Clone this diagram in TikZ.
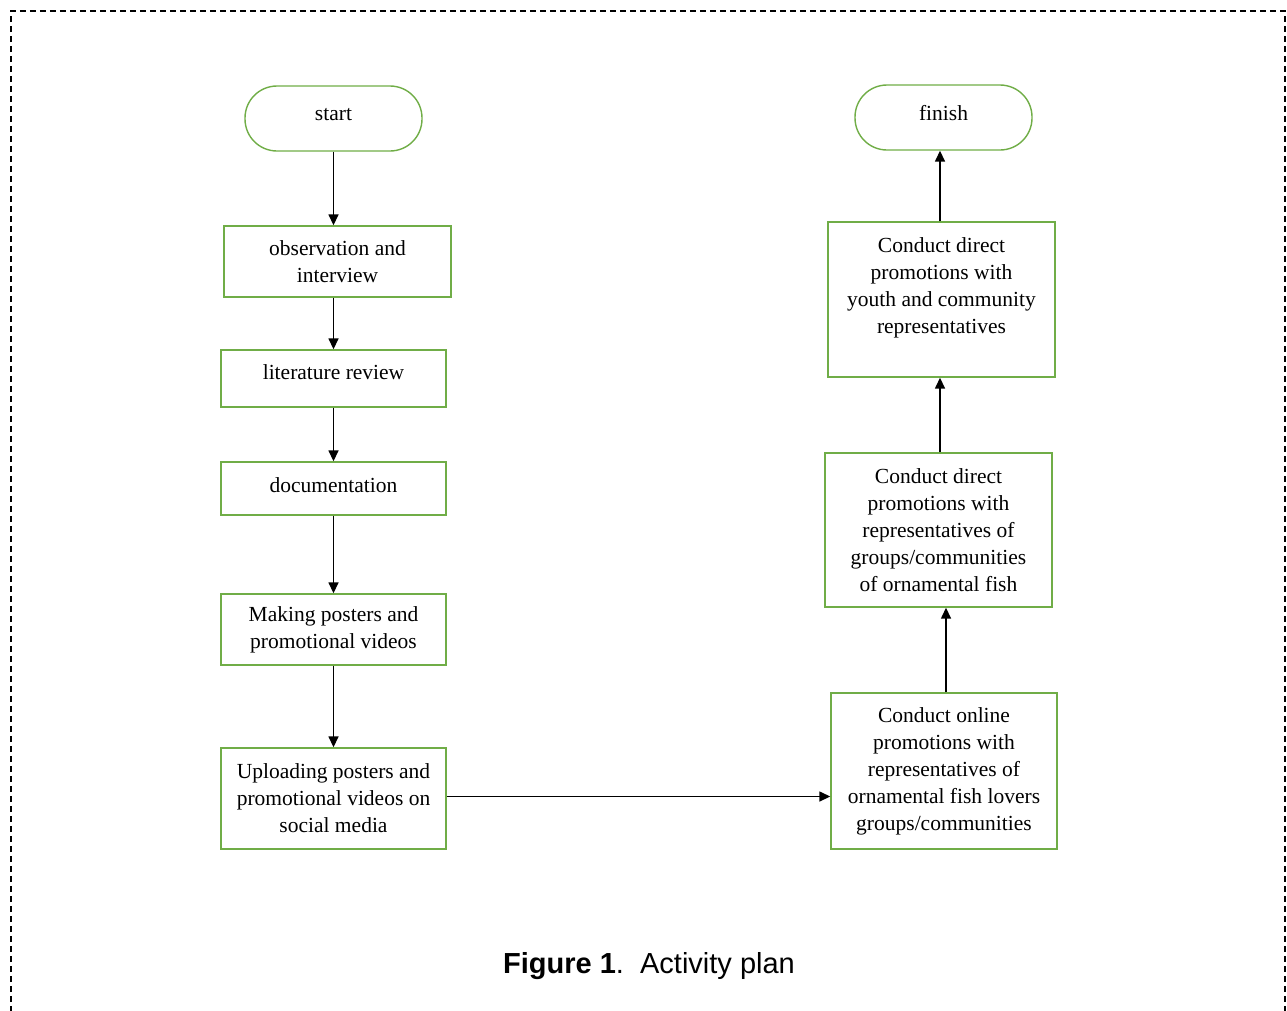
\documentclass[tikz,border=0pt]{standalone}
\usepackage{fontspec}
\setmainfont{Liberation Serif}
\newfontfamily\capfont{Liberation Sans}
\usetikzlibrary{arrows.meta,calc}
\definecolor{boxgreen}{RGB}{112,173,71}
\begin{document}
\begin{tikzpicture}[x=1pt,y=-1pt,
  stepbox/.style={draw=boxgreen,line width=1.4pt,rectangle,align=center,inner sep=0pt,
    font=\fontsize{21.5}{27}\selectfont},
  termbox/.style={stepbox,rounded corners=32pt},
  conn/.style={draw=black,line width=1.5pt,-{Triangle[length=11pt,width=10pt]}},
  frame/.style={draw=black,line width=1.4pt,dash pattern=on 6pt off 4pt}]
\useasboundingbox (0,0) rectangle (1287,1010);
\coordinate (ftl) at (11,1012);
\coordinate (ftr) at (1285,1012);
\draw[frame] (ftl) -- (11,11) -- (1285,11) -- (ftr);

\node[termbox,minimum width=177pt,minimum height=65pt] (start) at (333.5,118.5) {start\\[-19pt]\mbox{}};
\node[termbox,minimum width=177pt,minimum height=65pt] (finish) at (943.5,117.5) {finish\\[-17pt]\mbox{}};

\node[stepbox,minimum width=227pt,minimum height=71pt] (obs) at (337.5,261.5) {observation and\\interview};
\node[stepbox,minimum width=225pt,minimum height=57pt] (lit) at (333.5,378.5) {literature review\\[-14pt]\mbox{}};
\node[stepbox,minimum width=225pt,minimum height=53pt] (doc) at (333.5,488.5) {documentation\\[-21pt]\mbox{}};
\node[stepbox,minimum width=225pt,minimum height=71pt] (post) at (333.5,629.5) {Making posters and\\promotional videos};
\node[stepbox,minimum width=225pt,minimum height=101pt] (up) at (333.5,798.5) {Uploading posters and\\promotional videos on\\social media};

\node[stepbox,minimum width=226pt,minimum height=156pt] (online) at (944,771) {Conduct online\\promotions with\\representatives of\\ornamental fish lovers\\groups/communities};
\node[stepbox,minimum width=227pt,minimum height=154pt] (groups) at (938.5,530) {Conduct direct\\promotions with\\representatives of\\groups/communities\\of ornamental fish};
\node[stepbox,minimum width=227pt,minimum height=155pt] (youth) at (941.5,299.5) {Conduct direct\\promotions with\\youth and community\\representatives\\\mbox{}};

\draw[conn] (start.south) -- (start.south |- obs.north);
\draw[conn] (lit.north |- obs.south) -- (lit.north);
\draw[conn] (lit.south) -- (doc.north);
\draw[conn] (doc.south) -- (post.north);
\draw[conn] (post.south) -- (up.north);
\draw[conn] ($(up.east)+(0,-2)$) -- ($(up.east -| online.west)+(0,-2)$);
\draw[conn] ($(online.north)+(2,0)$) -- ($(online.north |- groups.south)+(2,0)$);
\draw[conn] ($(groups.north)+(1.5,0)$) -- ($(groups.north |- youth.south)+(1.5,0)$);
\draw[conn] ($(youth.north)+(-1.5,0)$) -- ($(youth.north |- finish.south)+(-1.5,0)$);

\node[font=\capfont\fontsize{29}{33}\selectfont,inner sep=0pt] (cap) at (649,966) {\textbf{Figure 1}.\ \ Activity plan};
\end{tikzpicture}
\end{document}
